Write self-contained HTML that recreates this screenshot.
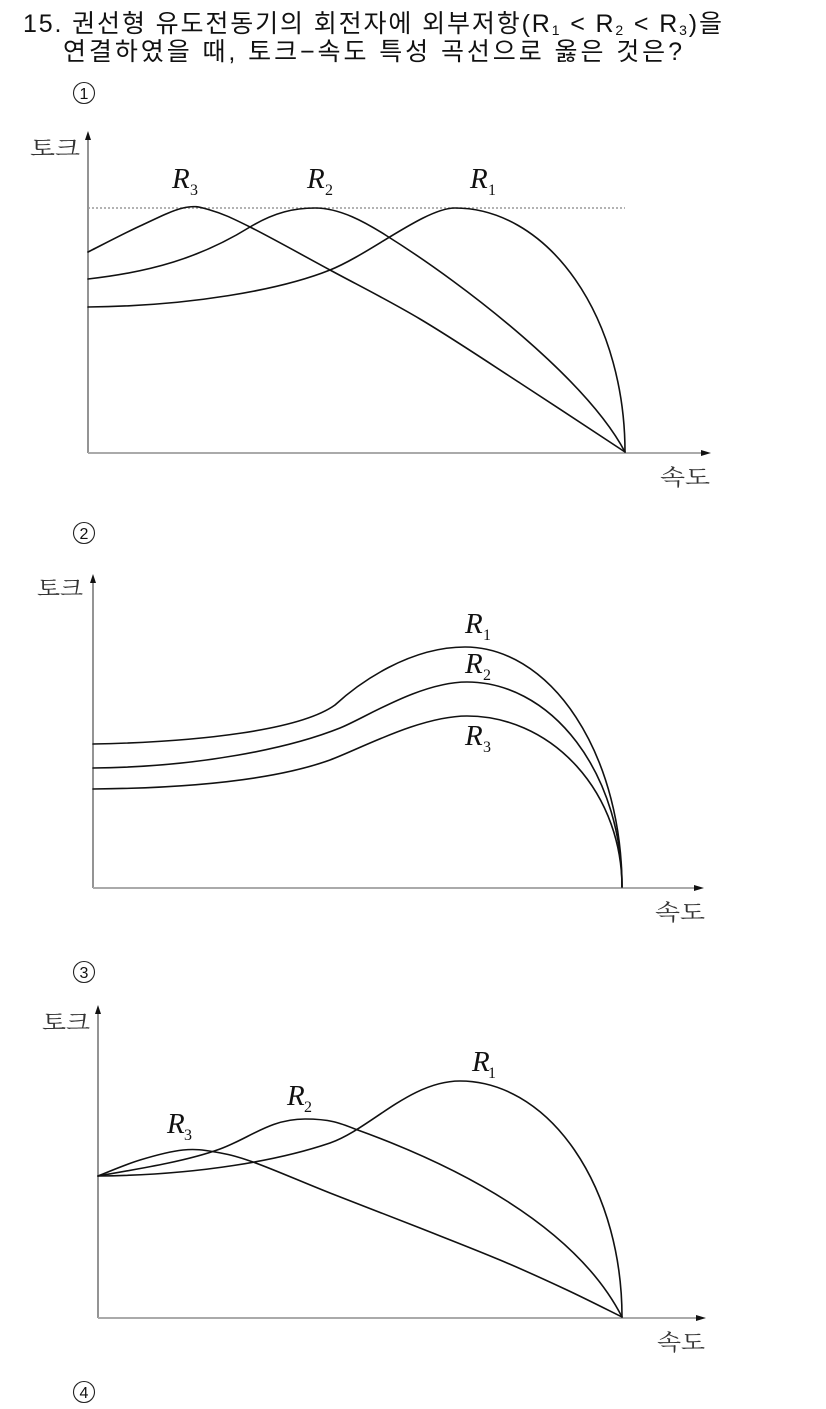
<!DOCTYPE html>
<html><head><meta charset="utf-8"><style>
html,body{margin:0;padding:0;background:#fff;}
svg{display:block;}
.t{font-family:"Liberation Sans","Noto Sans CJK KR",sans-serif;font-size:25px;fill:#111;}
.k{font-family:"Liberation Serif","Noto Serif CJK SC",serif;font-size:22px;fill:#333;}
.r{font-family:"Liberation Serif",serif;font-style:italic;font-size:29px;fill:#111;}
.s{font-family:"Liberation Serif",serif;font-size:16px;fill:#111;}
.c{fill:none;stroke:#111;stroke-width:1.6;stroke-linejoin:round;stroke-linecap:round;}
.ya{stroke:#666;stroke-width:1.4;}
.xa{stroke:#aaa;stroke-width:2;}
.n{font-family:"Liberation Sans",sans-serif;font-size:16px;fill:#111;}
</style></head><body>
<svg width="826" height="1409" viewBox="0 0 826 1409" xmlns="http://www.w3.org/2000/svg">
<rect width="826" height="1409" fill="#fff"/>

<!-- Title -->
<text class="t" x="23" y="32" textLength="699" lengthAdjust="spacing">15. 권선형 유도전동기의 회전자에 외부저항(R<tspan font-size="14" dy="3">1</tspan><tspan dy="-3"> &lt; R</tspan><tspan font-size="14" dy="3">2</tspan><tspan dy="-3"> &lt; R</tspan><tspan font-size="14" dy="3">3</tspan><tspan dy="-3">)을</tspan></text>
<text class="t" x="63" y="60" textLength="619" lengthAdjust="spacing">연결하였을 때, 토크−속도 특성 곡선으로 옳은 것은?</text>

<!-- circled numbers -->
<circle cx="84" cy="93" r="10.5" fill="none" stroke="#222" stroke-width="1.1"/>
<text class="n" x="84" y="99" text-anchor="middle">1</text>
<circle cx="84" cy="533" r="10.5" fill="none" stroke="#222" stroke-width="1.1"/>
<text class="n" x="84" y="539" text-anchor="middle">2</text>
<circle cx="84" cy="972" r="10.5" fill="none" stroke="#222" stroke-width="1.1"/>
<text class="n" x="84" y="978" text-anchor="middle">3</text>
<circle cx="84" cy="1392" r="10.5" fill="none" stroke="#222" stroke-width="1.1"/>
<text class="n" x="84" y="1398" text-anchor="middle">4</text>

<!-- ===== Chart 1 ===== -->
<line class="ya" x1="88" y1="138" x2="88" y2="453"/>
<line class="xa" x1="88" y1="453" x2="702" y2="453"/>
<polygon points="88,131 85,140 91,140" fill="#111"/>
<polygon points="711,453 701,450 701,456" fill="#111"/>
<text class="k" x="30" y="156" textLength="50" lengthAdjust="spacingAndGlyphs">토크</text>
<text class="k" x="660" y="485" textLength="50" lengthAdjust="spacingAndGlyphs">속도</text>
<line x1="88" y1="208" x2="625" y2="208" stroke="#9a9a9a" stroke-width="1.5" stroke-dasharray="2 2"/>

<path class="c" d="M88,252 C96.7,247.7 124.2,233.3 140,226 C155.8,218.7 171.3,210.7 183,208 C194.7,205.3 198.8,206.8 210,210 C221.2,213.2 230,217 250,227 C270,237 301.7,254.7 330,270 C358.3,285.3 388.3,300.2 420,319 C451.7,337.8 485.8,360.8 520,383 C554.2,405.2 607.5,440.5 625,452"/>
<path class="c" d="M88,279 C150,272 200,258 250,227 C275,212 295,208 315,208 C340,208 365,222 387,236 C467,286 587,380 625,452"/>
<path class="c" d="M88,307 C190,306 280,290 330,270 C370,254 425,208 455,208 A170,244 0 0 1 625,452"/>

<text class="r" x="172" y="188">R</text><text class="s" x="190" y="195">3</text>
<text class="r" x="307" y="188">R</text><text class="s" x="325" y="195">2</text>
<text class="r" x="470" y="188">R</text><text class="s" x="488" y="195">1</text>

<!-- ===== Chart 2 ===== -->
<line class="ya" x1="93" y1="581" x2="93" y2="888"/>
<line class="xa" x1="93" y1="888" x2="696" y2="888"/>
<polygon points="93,574 90,583 96,583" fill="#111"/>
<polygon points="704,888 694,885 694,891" fill="#111"/>
<text class="k" x="37" y="596" textLength="46" lengthAdjust="spacingAndGlyphs">토크</text>
<text class="k" x="655" y="920" textLength="50" lengthAdjust="spacingAndGlyphs">속도</text>

<path class="c" d="M93,744 C200,742 300,730 335,705 C360,682 410,647 465,647 A157,240 0 0 1 622,887"/>
<path class="c" d="M93,768 C200,767 290,748 340,728 C365,718 420,682 467,682 A155,205 0 0 1 622,887"/>
<path class="c" d="M93,789 C200,788 280,778 330,760 C360,749 420,716 467,716 A155,171 0 0 1 622,887"/>

<text class="r" x="465" y="633">R</text><text class="s" x="483" y="640">1</text>
<text class="r" x="465" y="673">R</text><text class="s" x="483" y="680">2</text>
<text class="r" x="465" y="745">R</text><text class="s" x="483" y="752">3</text>

<!-- ===== Chart 3 ===== -->
<line class="ya" x1="98" y1="1012" x2="98" y2="1318"/>
<line class="xa" x1="98" y1="1318" x2="697" y2="1318"/>
<polygon points="98,1005 95,1014 101,1014" fill="#111"/>
<polygon points="706,1318 696,1315 696,1321" fill="#111"/>
<text class="k" x="42" y="1030" font-size="20" textLength="48" lengthAdjust="spacingAndGlyphs">토크</text>
<text class="k" x="657" y="1350" textLength="48" lengthAdjust="spacingAndGlyphs">속도</text>

<path class="c" d="M98,1176 C105,1173.3 125.8,1164.3 140,1160 S170.5,1151.3 183,1150 S203.3,1150 215,1152 S233.8,1155.2 253,1162 S302.2,1182 330,1193 S391.7,1216.8 420,1228 S475.5,1249.7 500,1260 S546.7,1280.5 567,1290 S612.8,1312.5 622,1317"/>
<path class="c" d="M98,1176 C150,1167 190,1160 220,1149 C250,1138 270,1119 305,1119 C330,1119 340,1123 355,1129 C455,1165 575,1225 622,1317"/>
<path class="c" d="M98,1176 C200,1175 280,1160 330,1143 C370,1129 410,1081 460,1081 A162,236 0 0 1 622,1317"/>

<text class="r" x="167" y="1133" font-size="27">R</text><text class="s" x="184" y="1140" font-size="15">3</text>
<text class="r" x="287" y="1105" font-size="27">R</text><text class="s" x="304" y="1112" font-size="15">2</text>
<text class="r" x="472" y="1071" font-size="26">R</text><text class="s" x="488" y="1078" font-size="15">1</text>
</svg>
</body></html>
